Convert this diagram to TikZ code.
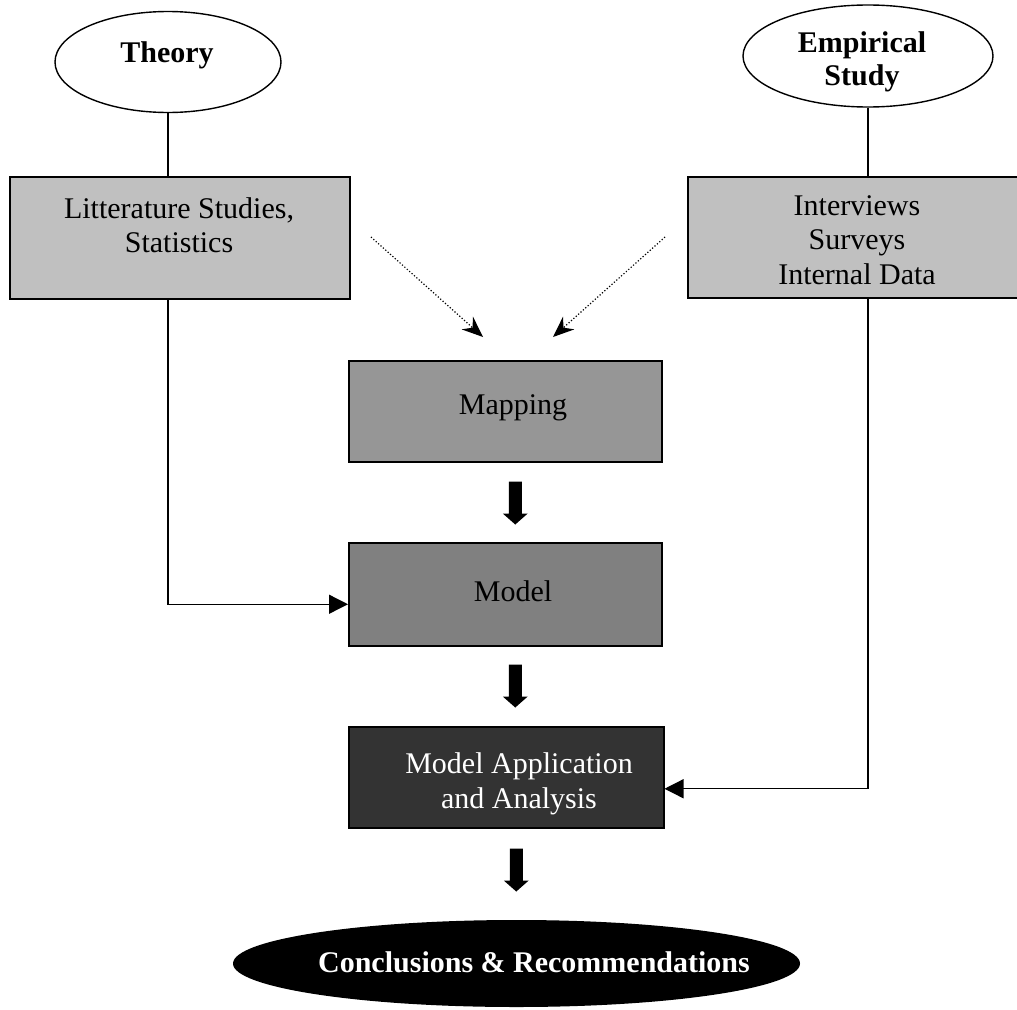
\documentclass[tikz,border=0pt]{standalone}
\usepackage{fontspec}
\setmainfont{Liberation Serif}
\usetikzlibrary{arrows.meta,shapes.geometric}
\definecolor{boxlight}{HTML}{C0C0C0}
\definecolor{boxmid}{HTML}{969696}
\definecolor{boxgrey}{HTML}{808080}
\definecolor{boxdark}{HTML}{333333}
\begin{document}
\begin{tikzpicture}[x=1pt,y=-1pt,
  stagebox/.style={draw=black, line width=1.5pt, rectangle, inner sep=0pt, anchor=north west},
  oval/.style={draw=black, line width=1.4pt, ellipse, inner sep=0pt},
  txt/.style={font=\fontsize{30}{34.5}\selectfont, align=center, inner sep=0pt},
  boldtxt/.style={font=\fontsize{30}{33}\selectfont\bfseries, align=center, inner sep=0pt},
  conn/.style={line width=1.3pt},
  connarrow/.style={line width=1.3pt, -{Triangle[length=19pt,width=19pt]}},
  dotarrow/.style={line width=1.2pt, dotted, -{Stealth[length=21pt,width=17pt,inset=7pt]}},
  blockarrow/.style={fill=black}]
\useasboundingbox (0,0) rectangle (1017,1009);

% sources
\node[oval, minimum width=226pt, minimum height=101pt] (theory) at (168,62) {};
\node[boldtxt] (theorytxt) at (167,55) {Theory};
\node[oval, minimum width=250pt, minimum height=102pt] (empirical) at (868,56) {};
\node[boldtxt] (empiricaltxt) at (862,62) {Empirical\\Study};

% input boxes
\node[stagebox, fill=boxlight, minimum width=340pt, minimum height=122pt] (lit) at (9,176) {};
\node[txt] (littxt) at (179,225) {Litterature Studies,\\Statistics};
\node[stagebox, fill=boxlight, minimum width=340pt, minimum height=121pt] (emp) at (687,176) {};
\node[txt] (emptxt) at (857,240) {Interviews\\Surveys\\Internal Data};

% central chain
\node[stagebox, fill=boxmid, minimum width=313pt, minimum height=101pt] (map) at (348,360) {};
\node[txt] (maptxt) at (513,408) {Mapping};
\node[stagebox, fill=boxgrey, minimum width=313pt, minimum height=103pt] (model) at (348,542) {};
\node[txt] (modeltxt) at (513,591) {Model};
\node[stagebox, fill=boxdark, minimum width=315pt, minimum height=101pt] (ma) at (348,726) {};
\node[txt, text=white] (matxt) at (519,784) {Model Application\\and Analysis};
\node[ellipse, fill=black, inner sep=0pt, minimum width=567pt, minimum height=87pt] (concl) at (516.5,963.5) {};
\node[boldtxt, text=white] (concltxt) at (534,962) {Conclusions \& Recommendations};

% links from the sources
\draw[conn] (theory.south) -- (theory.south |- lit.north);
\draw[conn] (empirical.south) -- (empirical.south |- emp.north);

% dotted feeds into the mapping
\coordinate (litfeed) at (371,237);
\coordinate (litfeedend) at (483,337);
\coordinate (empfeed) at (665,237);
\coordinate (empfeedend) at (553,337);
\draw[dotarrow] (litfeed) -- (litfeedend);
\draw[dotarrow] (empfeed) -- (empfeedend);

% side connectors
\draw[connarrow] (lit.south -| theory.south) |- ([yshift=-10pt]model.west);
\draw[connarrow] (emp.south -| empirical.south) |- ([yshift=-11.5pt]ma.east);

% block arrows down the chain (shaft 13 wide, head 25 wide)
\fill[blockarrow] ([xshift=10pt,yshift=-19pt]map.south) ++(-6.5,0) -- ++(13,0) -- ++(0,32) -- ++(6,0)
  -- ++(-12.5,11) -- ++(-12.5,-11) -- ++(6,0) -- cycle;
\fill[blockarrow] ([xshift=10pt,yshift=-18pt]model.south) ++(-6.5,0) -- ++(13,0) -- ++(0,32) -- ++(6,0)
  -- ++(-12.5,11) -- ++(-12.5,-11) -- ++(6,0) -- cycle;
\fill[blockarrow] ([xshift=10pt,yshift=-20pt]ma.south) ++(-6.5,0) -- ++(13,0) -- ++(0,32) -- ++(6,0)
  -- ++(-12.5,11) -- ++(-12.5,-11) -- ++(6,0) -- cycle;
\end{tikzpicture}
\end{document}
